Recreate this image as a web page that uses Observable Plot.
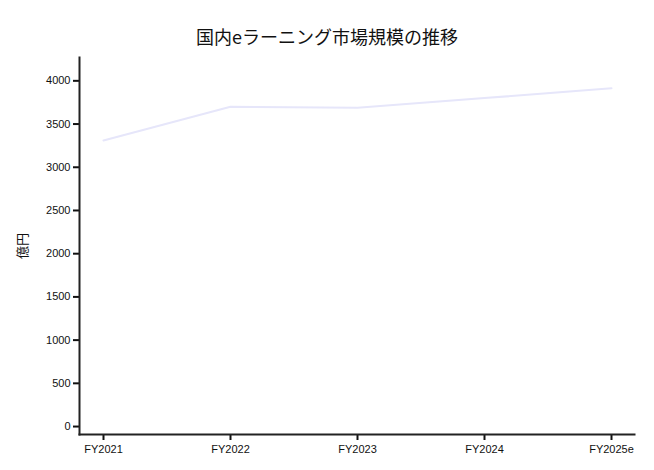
<!DOCTYPE html>
<html><head><meta charset="utf-8">
<script src="https://cdn.jsdelivr.net/npm/d3@7"></script>
<script src="https://cdn.jsdelivr.net/npm/@observablehq/plot@0.6"></script>
<style>
body{margin:0;background:#fff;}
#title{height:50px;box-sizing:border-box;padding-top:25px;text-align:center;font:18px "Noto Sans CJK JP","Noto Sans",sans-serif;line-height:22px;color:#111;}
</style>
</head><body>
<div id="title">国内eラーニング市場規模の推移</div>
<div id="chart"></div>
<script>
const years = ["FY2021","FY2022","FY2023","FY2024","FY2025e"];
const values = [3310, 3700, 3690, 3800, 3915];
const yTicks = [0,500,1000,1500,2000,2500,3000,3500,4000];
const data = years.map((y,i)=>({year:y, value:values[i]}));
const font = '"Liberation Sans",Arial,sans-serif';
const chart = Plot.plot({
  width: 654, height: 420,
  marginLeft: 79, marginRight: 20, marginTop: 7, marginBottom: 36,
  style: {fontFamily: font, fontSize: "11px", color: "#111", background: "#fff"},
  x: {type: "point", domain: years, padding: 0.185},
  y: {domain: [-92, 4270]},
  marks: [
    Plot.axisY({ticks: yTicks, tickFormat: d => String(d), tickSize: 6, tickPadding: 3, strokeWidth: 2, label: null, fontSize: 11}),
    Plot.axisY({ticks: [], tickSize: 0, label: "億円", labelAnchor: "center", labelOffset: 62, labelArrow: "none", fontSize: 13, fontFamily: '"Noto Sans CJK JP",sans-serif'}),
    Plot.axisX({tickSize: 6, tickPadding: 5, strokeWidth: 2, label: null, fontSize: 11}),
    Plot.frame({anchor: "left", stroke: "#222", strokeWidth: 2}),
    Plot.frame({anchor: "bottom", stroke: "#222", strokeWidth: 2}),
    Plot.line(data, {x: "year", y: "value", stroke: "#e6e6fa", strokeWidth: 2})
  ]
});
document.getElementById("chart").appendChild(chart);
</script>
</body></html>
